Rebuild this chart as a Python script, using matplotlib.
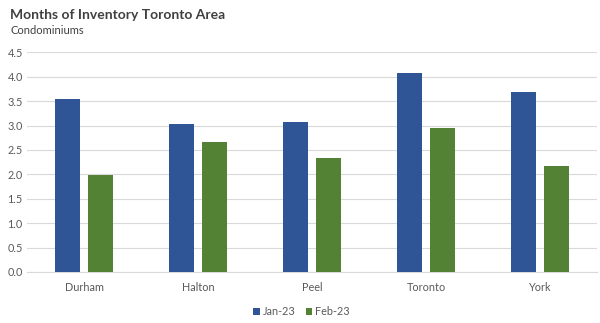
import numpy as np
import matplotlib.pyplot as plt

regions = ["Durham", "Halton", "Peel", "Toronto", "York"]
jan_23 = [3.55, 3.03, 3.07, 4.08, 3.69]
feb_23 = [1.98, 2.66, 2.33, 2.94, 2.17]
series_labels = ["Jan-23", "Feb-23"]

plt.rcParams['font.family'] = ['Lato', 'DejaVu Sans']

fig = plt.figure(figsize=(6.0, 3.23), dpi=100)
ax = fig.add_axes([0.045, 0.158, 0.95, 0.68])

x = np.arange(len(regions))
w = 0.22
ax.bar(x - 0.145, jan_23, w, color="#2F5597", label=series_labels[0], zorder=3)
ax.bar(x + 0.145, feb_23, w, color="#548235", label=series_labels[1], zorder=3)

ax.set_xlim(-0.5, len(regions) - 0.5)
ax.set_ylim(0, 4.5)
ax.set_yticks(np.arange(0, 4.51, 0.5))
ax.set_yticklabels([f"{v:.1f}" for v in np.arange(0, 4.51, 0.5)])
ax.set_xticks(x)
ax.set_xticklabels(regions)
ax.yaxis.grid(True, color="#D9D9D9", linewidth=0.8, zorder=0)
ax.tick_params(axis="both", length=0, labelsize=7.8, labelcolor="#595959")
ax.tick_params(axis="x", pad=7)
ax.tick_params(axis="y", pad=3)
for s in ["top", "right", "left"]:
    ax.spines[s].set_visible(False)
ax.spines["bottom"].set_color("#D9D9D9")

fig.text(0.017, 0.955, "Months of Inventory Toronto Area", fontsize=10, fontweight="bold",
         color="#404040", va="center")
fig.text(0.017, 0.905, "Condominiums", fontsize=8, color="#404040", va="center")

fig.legend(loc="center", bbox_to_anchor=(0.503, 0.035), ncol=2, frameon=False,
           fontsize=7.8, handlelength=0.6, handleheight=0.6, handletextpad=0.3,
           columnspacing=0.9, labelcolor="#595959")

fig.savefig("out.png", dpi=100)
